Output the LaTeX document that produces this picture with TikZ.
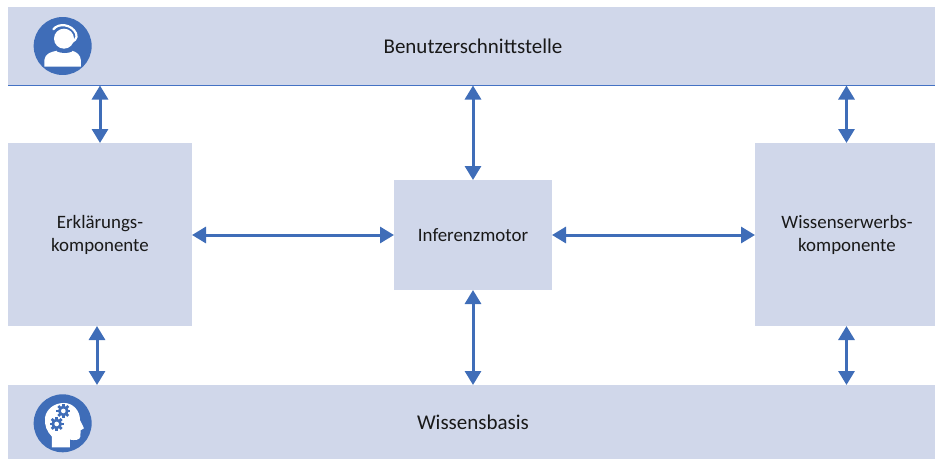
\documentclass[tikz,border=0pt]{standalone}
\usepackage{fontspec}
\setmainfont{Carlito}
\usetikzlibrary{arrows.meta}
\definecolor{boxfill}{HTML}{D0D7EA}
\definecolor{accent}{HTML}{3F6DB8}
\definecolor{rulecol}{HTML}{4472C4}
\tikzset{
  panel/.style={fill=boxfill,draw=none,inner sep=0pt,outer sep=0pt},
  smalllabel/.style={align=center,font=\fontsize{18.9}{23}\selectfont,text=black!90},
  biglabel/.style={font=\fontsize{21}{23}\selectfont,text=black!90},
  link/.style={draw=accent,line width=3pt,{Triangle[length=14pt,width=16pt]}-{Triangle[length=14pt,width=16pt]}},
  rule/.style={draw=rulecol,line width=1.6pt}
}
\begin{document}
\begin{tikzpicture}[x=1pt,y=-1pt]
\useasboundingbox (0,0) rectangle (935,459);
\clip (0,0) rectangle (935,459);
\node[panel,minimum width=927pt,minimum height=78pt,anchor=north west] (ui) at (8,7) {};
\node[biglabel] (uitext) at (473,46) {Benutzerschnittstelle};
\node[panel,minimum width=927pt,minimum height=74pt,anchor=north west] (kb) at (8,385) {};
\node[biglabel] (kbtext) at (473,422) {Wissensbasis};
\node[panel,minimum width=184pt,minimum height=183pt,anchor=north west] (expl) at (8,143) {};
\node[smalllabel] (expltext) at (100,235) {Erklärungs-\\komponente};
\node[panel,minimum width=158pt,minimum height=110pt,anchor=north west] (inf) at (394,180) {};
\node[smalllabel] (inftext) at (473,235) {Inferenzmotor};
\node[panel,minimum width=184pt,minimum height=183pt,anchor=north west] (acq) at (755,143) {};
\node[smalllabel] (acqtext) at (847,235) {Wissenserwerbs-\\komponente};
\coordinate (ruleL) at (8,85.5);
\coordinate (ruleR) at (935,85.5);
\draw[rule] (ruleL) -- (ruleR);
% connector columns
\coordinate (c1) at (100,0);
\coordinate (c2) at (97,0);
\coordinate (c3) at (473,0);
\coordinate (c4) at (846.5,0);
\draw[link] (ruleL -| c1) -- (expl.north -| c1);
\draw[link] (ruleL -| c3) -- (inf.north);
\draw[link] (ruleL -| c4) -- (acq.north -| c4);
\draw[link] (expl.south -| c2) -- (kb.north -| c2);
\draw[link] (inf.south) -- (kb.north -| c3);
\draw[link] (acq.south -| c4) -- (kb.north -| c4);
\draw[link] (expl.east |- inf.center) -- (inf.west);
\draw[link] (inf.east) -- (acq.west |- inf.center);
% headset icon
\begin{scope}[x=0.3333pt,y=-0.3333pt]
\fill[accent] (188,138) circle (87);
\fill[white] (192,116) circle (30);
\fill[white] (133,200) -- (133,180) .. controls (135,160) and (155,155) .. (172,152)
  .. controls (185,158) and (205,158) .. (215,152) .. controls (230,155) and (242,165) .. (243,182) -- (243,200) -- cycle;
\draw[accent,line width=3pt] (172,150) .. controls (185,156) and (205,156) .. (215,150);
\draw[white,line width=2.2pt,line cap=round] (160,88) .. controls (175,68) and (215,72) .. (228,100) .. controls (234,115) and (225,125) .. (198,133);
\end{scope}
% brain icon
\begin{scope}[x=0.3333pt,y=-0.3333pt,shift={(0,1125)}]
\fill[accent] (188,145) circle (87);
\fill[white] (156,217) -- (156,185) .. controls (140,170) and (133,150) .. (135,128)
  .. controls (140,100) and (165,84) .. (192,84) .. controls (220,84) and (240,108) .. (240,135)
  -- (252,160) -- (242,166) -- (241,185) .. controls (240,195) and (225,197) .. (210,194) -- (210,217) -- cycle;
\foreach \gx/\gy in {190/108,170/147}{
  \foreach \a in {0,45,...,315}{
    \fill[accent,rotate around={\a:(\gx,\gy)}] (\gx-4,\gy-21) rectangle (\gx+4,\gy);
  }
  \fill[accent] (\gx,\gy) circle (16);
  \fill[white] (\gx,\gy) circle (7);
}
\end{scope}
\end{tikzpicture}
\end{document}
